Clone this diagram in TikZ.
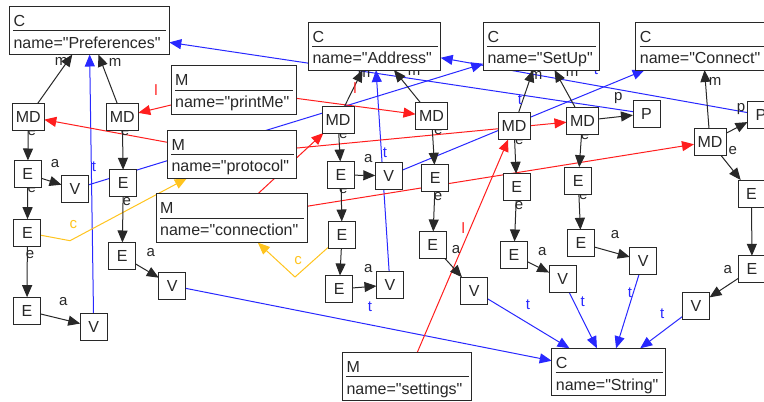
\documentclass[tikz,border=0pt]{standalone}
\usepackage{fontspec}
\newfontfamily\uifont{Liberation Sans}
\usetikzlibrary{arrows.meta}
\pgfdeclarelayer{bg}
\pgfdeclarelayer{edges}
\pgfsetlayers{bg,edges,main}
\definecolor{tblue}{RGB}{40,40,255}
\definecolor{lred}{RGB}{255,30,30}
\definecolor{cyellow}{RGB}{255,196,30}
\definecolor{ink}{RGB}{40,40,40}

\tikzset{
  box/.style={draw=ink, line width=1pt, fill=white, inner sep=0pt, outer sep=0pt,
    font=\uifont\fontsize{16}{19}\selectfont, text=ink},
  onechar/.style={box, minimum width=27pt, minimum height=27pt},
  twochar/.style={box, minimum width=32pt, minimum height=27pt},
  part/.style={inner sep=0pt, font=\uifont\fontsize{16}{19}\selectfont, text=ink, anchor=base west},
  sepline/.style={draw=ink, line width=1pt},
  tip/.style={-{Triangle[length=12pt,width=10pt]}},
  edge/.style={tip, draw=ink, line width=1pt},
  tedge/.style={tip, draw=tblue, line width=1pt},
  ledge/.style={tip, draw=lred, line width=1pt},
  cedge/.style={tip, draw=cyellow, line width=1pt},
  lab/.style={inner sep=0pt, font=\uifont\fontsize{15}{18}\selectfont, text=ink},
  tlab/.style={lab, text=tblue},
  llab/.style={lab, text=lred},
  clab/.style={lab, text=cyellow},
}

% two-part box: name, x, y, width, height, head text, body text
\newcommand\twopart[7]{%
  \node[box, minimum width=#4pt, minimum height=#5pt] (#1) at (#2,#3) {};
  \node[part] (#1-head) at ([xshift=4pt,yshift=-20pt]#1.north west) {#6};
  \draw[sepline] ([xshift=4pt,yshift=-24.3pt]#1.north west) -- ([xshift=-3pt,yshift=-24.3pt]#1.north east);
  \node[part] (#1-body) at ([xshift=4pt,yshift=-41.7pt]#1.north west) {#7};
}

\begin{document}
\begin{tikzpicture}[x=1pt,y=-1pt]
\begin{pgfonlayer}{bg}
  \fill[white] (0,0) rectangle (764,402);
\end{pgfonlayer}
\useasboundingbox (0,0) rectangle (764,402);

% classes
\twopart{pref}{89.3}{30.5}{160}{48}{C}{name="Preferences"}
\twopart{addr}{374.5}{46}{132.4}{48}{C}{name="Address"}
\twopart{setup}{541.3}{46}{116}{48}{C}{name="SetUp"}
\twopart{conn}{702.7}{46}{134}{48}{C}{name="Connect"}
\twopart{str}{608.7}{372}{114}{47.4}{C}{name="String"}

% method names
\twopart{printme}{233.5}{90}{125}{48.6}{M}{name="printMe"}
\twopart{protocol}{232}{154.2}{129.4}{48.3}{M}{name="protocol"}
\twopart{connection}{231.5}{218.3}{151}{48.7}{M}{name="connection"}
\twopart{settings}{407}{376.5}{129.4}{48.4}{M}{name="settings"}

% method declarations
\node[twochar] (mda) at (28.3,116.7) {MD};
\node[twochar] (mdb) at (122.3,116.7) {MD};
\node[twochar] (mdc) at (338,119.5) {MD};
\node[twochar] (mdd) at (431.5,116.3) {MD};
\node[twochar] (mde) at (514,126) {MD};
\node[twochar] (mdf) at (582.5,120.7) {MD};
\node[twochar] (mdg) at (710,141.7) {MD};

% parameters
\node[onechar] (pf) at (646.5,113.7) {P};
\node[onechar] (pg) at (761,115) {P};

% expressions and variables
\node[onechar] (ea1) at (27.8,174) {E};
\node[onechar] (va1) at (75,189) {V};
\node[onechar] (ea2) at (27.4,232.7) {E};
\node[onechar] (ea3) at (27,310.7) {E};
\node[onechar] (va2) at (93.7,326.8) {V};

\node[onechar] (eb1) at (123.3,183.3) {E};
\node[onechar] (eb2) at (122.2,256) {E};
\node[onechar] (vb) at (172.3,285.7) {V};

\node[onechar] (ec1) at (341,175) {E};
\node[onechar] (vc) at (388.8,175.7) {V};
\node[onechar] (ec2) at (342,235) {E};
\node[onechar] (ec3) at (339.3,289) {E};
\node[onechar] (vd) at (390,285) {V};

\node[onechar] (ed1) at (435.3,178.3) {E};
\node[onechar] (ed2) at (432.7,245) {E};
\node[onechar] (ve) at (474.2,290.7) {V};

\node[onechar] (ee1) at (516.7,187.3) {E};
\node[onechar] (ee2) at (514,255) {E};
\node[onechar] (vf) at (562.7,279.3) {V};

\node[onechar] (ef1) at (578.3,180.7) {E};
\node[onechar] (ef2) at (581,243.3) {E};
\node[onechar] (vg) at (643.3,260.7) {V};

\node[onechar] (eg1) at (751.5,193.5) {E};
\node[onechar] (eg2) at (752,269.3) {E};
\node[onechar] (vh) at (696,306.3) {V};

\coordinate (cbend1) at (70,240.7);
\coordinate (cbend2) at (295,277);

\begin{pgfonlayer}{edges}
  % type edges
  \draw[tedge] (va2) -- (pref);
  \draw[tedge] (va1) -- (setup);
  \draw[tedge] (pf) -- (pref);
  \draw[tedge] (pg) -- (addr);
  \draw[tedge] (vc) -- (conn);
  \draw[tedge] (vd) -- (addr);
  \draw[tedge] (vb) -- (str);
  \draw[tedge] (ve) -- (str);
  \draw[tedge] (vf) -- (str);
  \draw[tedge] (vg) -- (str);
  \draw[tedge] (vh) -- (str);

  % name links
  \draw[ledge] (printme) -- (mdb);
  \draw[ledge] (printme) -- (mdd);
  \draw[ledge] (protocol) -- (mda);
  \draw[ledge] (protocol) -- (mdf);
  \draw[ledge] (connection) -- (mdc);
  \draw[ledge] (connection) -- (mdg);
  \draw[ledge] (settings) -- (mde);

  % call links
  \draw[cedge] (ea2) -- (cbend1) -- (protocol);
  \draw[cedge] (ec2) -- (cbend2) -- (connection);

  % structure
  \draw[edge] (mda) -- (pref);
  \draw[edge] (mdb) -- (pref);
  \draw[edge] (mda) -- (ea1);
  \draw[edge] (ea1) -- (va1);
  \draw[edge] (ea1) -- (ea2);
  \draw[edge] (ea2) -- (ea3);
  \draw[edge] (ea3) -- (va2);
  \draw[edge] (mdb) -- (eb1);
  \draw[edge] (eb1) -- (eb2);
  \draw[edge] (eb2) -- (vb);
  \draw[edge] (mdc) -- (addr);
  \draw[edge] (mdd) -- (addr);
  \draw[edge] (mdc) -- (ec1);
  \draw[edge] (ec1) -- (vc);
  \draw[edge] (ec1) -- (ec2);
  \draw[edge] (ec2) -- (ec3);
  \draw[edge] (ec3) -- (vd);
  \draw[edge] (mdd) -- (ed1);
  \draw[edge] (ed1) -- (ed2);
  \draw[edge] (ed2) -- (ve);
  \draw[edge] (mde) -- (setup);
  \draw[edge] (mdf) -- (setup);
  \draw[edge] (mde) -- (ee1);
  \draw[edge] (ee1) -- (ee2);
  \draw[edge] (ee2) -- (vf);
  \draw[edge] (mdf) -- (pf);
  \draw[edge] (mdf) -- (ef1);
  \draw[edge] (ef1) -- (ef2);
  \draw[edge] (ef2) -- (vg);
  \draw[edge] (mdg) -- (conn);
  \draw[edge] (mdg) -- (pg);
  \draw[edge] (mdg) -- (eg1);
  \draw[edge] (eg1) -- (eg2);
  \draw[edge] (eg2) -- (vh);

  % edge labels
  \node[lab] (lm1) at (61,61) {m};
  \node[lab] (lm2) at (115,62.3) {m};
  \node[lab] (lm3) at (364,73) {m};
  \node[lab] (lm4) at (414,71) {m};
  \node[lab] (lm5) at (536,75) {m};
  \node[lab] (lm6) at (572,72) {m};
  \node[lab] (lm7) at (715,81.7) {m};

  \node[lab] (lp1) at (618.3,98.3) {p};
  \node[lab] (lp2) at (741,109.3) {p};

  \node[lab] (la1) at (55,163.3) {a};
  \node[lab] (la2) at (150.7,252.7) {a};
  \node[lab] (la3) at (63.3,301.7) {a};
  \node[lab] (la4) at (368.3,158.3) {a};
  \node[lab] (la5) at (368.3,268.3) {a};
  \node[lab] (la6) at (456,250) {a};
  \node[lab] (la7) at (542.3,251.7) {a};
  \node[lab] (la8) at (615,235) {a};
  \node[lab] (la9) at (727.7,269.3) {a};

  % labels that sit partly under the box they leave
  \node[lab] (le1) at (31.7,131.5) {e};
  \node[lab] (le2) at (31.7,189) {e};
  \node[lab] (le4) at (125,131.5) {e};
  \node[lab] (le6) at (343.3,134.3) {e};
  \node[lab] (le7) at (343.3,190) {e};
  \node[lab] (le8) at (438.3,131) {e};
  \node[lab] (le10) at (519.3,140.8) {e};
  \node[lab] (le12) at (585,135.5) {e};
  \node[lab] (le13) at (583.3,195.5) {e};
  % fully shown ones
  \node[lab] (le3) at (30,255) {e};
  \node[lab] (le5) at (126.7,201.7) {e};
  \node[lab] (le9) at (438,196.7) {e};
  \node[lab] (le11) at (519,206) {e};
  \node[lab] (le14) at (732.7,150.7) {e};

  \node[llab] (ll1) at (156,90) {l};
  \node[llab] (ll2) at (355,88) {l};
  \node[llab] (ll3) at (463.3,228.3) {l};

  \node[clab] (lc1) at (73.3,224.3) {c};
  \node[clab] (lc2) at (298,260.7) {c};

  \node[tlab] (lt1) at (94,167) {t};
  \node[tlab] (lt2) at (385,153) {t};
  \node[tlab] (lt3) at (370,307) {t};
  \node[tlab] (lt4) at (520,100) {t};
  \node[tlab] (lt5) at (596,70) {t};
  \node[tlab] (lt6) at (528,305) {t};
  \node[tlab] (lt7) at (582.7,301.7) {t};
  \node[tlab] (lt8) at (630,293) {t};
  \node[tlab] (lt9) at (662.3,313.3) {t};
\end{pgfonlayer}
\end{tikzpicture}
\end{document}
